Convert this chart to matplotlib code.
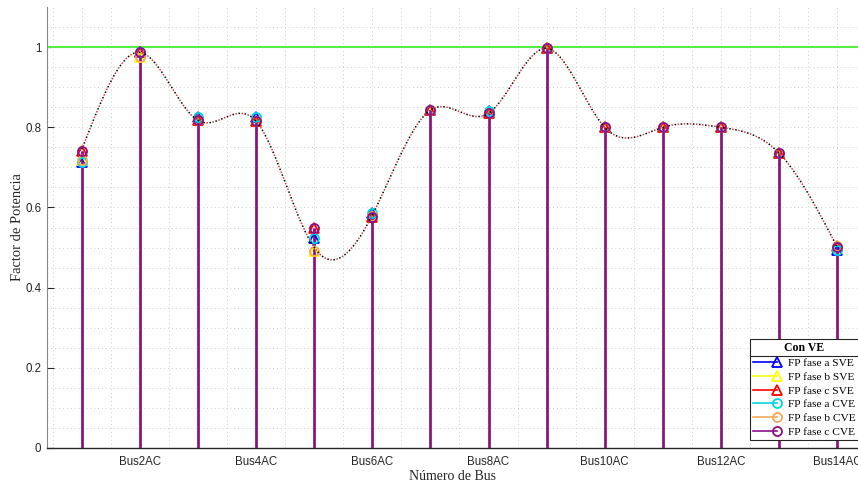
import numpy as np
import matplotlib
matplotlib.use("Agg")
import matplotlib.pyplot as plt
from matplotlib.legend_handler import HandlerLine2D
from matplotlib.lines import Line2D

# Power factor per bus and phase, without (SVE) and with (CVE) electric vehicles
buses = np.arange(1, 15)
fp_a_sve = [0.714, 0.987, 0.826, 0.826, 0.524, 0.585, 0.843, 0.840, 0.997, 0.800, 0.800, 0.800, 0.736, 0.495]
fp_b_sve = [0.718, 0.976, 0.818, 0.815, 0.492, 0.578, 0.843, 0.836, 0.997, 0.800, 0.800, 0.800, 0.736, 0.505]
fp_c_sve = [0.741, 0.987, 0.817, 0.815, 0.549, 0.576, 0.843, 0.835, 0.997, 0.800, 0.800, 0.800, 0.736, 0.505]
fp_a_cve = [0.714, 0.987, 0.826, 0.826, 0.524, 0.585, 0.843, 0.840, 0.997, 0.800, 0.800, 0.800, 0.736, 0.495]
fp_b_cve = [0.718, 0.976, 0.818, 0.815, 0.492, 0.578, 0.843, 0.836, 0.997, 0.800, 0.800, 0.800, 0.736, 0.505]
fp_c_cve = [0.741, 0.987, 0.817, 0.815, 0.549, 0.576, 0.843, 0.835, 0.997, 0.800, 0.800, 0.800, 0.736, 0.502]

# Values the smooth trend curve passes through at each bus
fp_tendencia = [0.745, 0.987, 0.817, 0.815, 0.500, 0.581, 0.843, 0.835, 0.997, 0.800, 0.800, 0.800, 0.736, 0.502]

tick_pos = [2, 4, 6, 8, 10, 12, 14]
tick_labels = ["Bus2AC", "Bus4AC", "Bus6AC", "Bus8AC", "Bus10AC", "Bus12AC", "Bus14AC"]
series_labels = ["FP fase a SVE", "FP fase b SVE", "FP fase c SVE",
                 "FP fase a CVE", "FP fase b CVE", "FP fase c CVE"]


def natural_spline(x, y, xs):
    x = np.asarray(x, float)
    y = np.asarray(y, float)
    n = len(x)
    h = np.diff(x)
    A = np.zeros((n, n))
    r = np.zeros(n)
    A[0, 0] = A[-1, -1] = 1.0
    for i in range(1, n - 1):
        A[i, i - 1] = h[i - 1]
        A[i, i] = 2 * (h[i - 1] + h[i])
        A[i, i + 1] = h[i]
        r[i] = 6 * ((y[i + 1] - y[i]) / h[i] - (y[i] - y[i - 1]) / h[i - 1])
    M = np.linalg.solve(A, r)
    idx = np.clip(np.searchsorted(x, xs) - 1, 0, n - 2)
    x0, x1 = x[idx], x[idx + 1]
    hh = x1 - x0
    t0 = x1 - xs
    t1 = xs - x0
    return (M[idx] * t0 ** 3 / (6 * hh) + M[idx + 1] * t1 ** 3 / (6 * hh)
            + (y[idx] / hh - M[idx] * hh / 6) * t0
            + (y[idx + 1] / hh - M[idx + 1] * hh / 6) * t1)


W, H = 858, 482
fig = plt.figure(figsize=(W / 100, H / 100), dpi=100)
ax = fig.add_axes([47 / W, 1 - 448 / H, 1 - 47 / W, (448 - 7) / H])

ax.set_xlim(0.4, 14.36)
ax.set_ylim(0, 1.1)

# dotted grid every half unit / 0.05
ax.set_xticks(np.arange(0.5, 14.5, 0.5), minor=True)
ax.set_yticks(np.arange(0, 1.1, 0.05), minor=True)
ax.grid(True, which="both", linestyle=(0, (1, 3)), color="#cfcfcf", linewidth=0.7)
ax.set_axisbelow(True)

# reference line at unity power factor
ax.axhline(1.0, color="#55ee44", linewidth=1.5, zorder=1)

styles = [
    (fp_a_sve, "#0000ff", "^"),
    (fp_b_sve, "#ffff00", "^"),
    (fp_c_sve, "#ff0000", "^"),
    (fp_a_cve, "#00d8e0", "o"),
    (fp_b_cve, "#f5a85a", "o"),
    (fp_c_cve, "#8a0f8a", "o"),
]

handles = []
for (vals, col, mk), lab in zip(styles, series_labels):
    ax.vlines(buses, 0, vals, colors=col, linewidth=1.8, zorder=2)
    ax.plot(buses, vals, linestyle="none", marker=mk, markersize=6.5,
            markerfacecolor="none", markeredgecolor=col, markeredgewidth=1.3, zorder=3)
    handles.append(Line2D([], [], color=col, marker=mk, markersize=6.5,
                          markerfacecolor="none", markeredgewidth=1.3,
                          linewidth=1.2, label=lab))

# smooth dotted trend curve
xs = np.linspace(1, 14, 600)
ys = natural_spline(buses, fp_tendencia, xs)
ax.plot(xs, ys, linestyle=(0, (1, 3)), color="#000000", linewidth=1.1, zorder=4)
ax.plot(xs, ys, linestyle=(2, (1, 3)), color="#c84040", linewidth=1.1, zorder=4)

ax.set_xticks(tick_pos)
ax.set_xticklabels(tick_labels)
ax.set_yticks([0, 0.2, 0.4, 0.6, 0.8, 1.0])
ax.set_yticklabels(["0", "0.2", "0.4", "0.6", "0.8", "1"])
ax.tick_params(which="major", direction="in", length=5, labelsize=8.3,
               labelcolor="#262626", color="#262626")
ax.tick_params(axis="y", pad=4)
ax.tick_params(axis="x", pad=6)
ax.tick_params(which="minor", length=0)
for lbl in ax.get_xticklabels() + ax.get_yticklabels():
    lbl.set_family(["Liberation Sans", "DejaVu Sans"])

for side in ("top", "right"):
    ax.spines[side].set_visible(False)
ax.spines["left"].set_color("#888888")
ax.spines["bottom"].set_color("#262626")
ax.spines["bottom"].set_linewidth(1.0)

serif = ["Liberation Serif", "DejaVu Serif"]
ax.set_xlabel("Número de Bus", family=serif, fontsize=10, color="#262626", labelpad=1.5)
ax.set_ylabel("Factor de Potencia", family=serif, fontsize=10.5, color="#262626", labelpad=1)


class RightMarker(HandlerLine2D):
    def create_artists(self, legend, orig_handle, xdescent, ydescent,
                       width, height, fontsize, trans):
        arts = super().create_artists(legend, orig_handle, xdescent, ydescent,
                                      width, height, fontsize, trans)
        for a in arts:
            if isinstance(a, Line2D) and len(a.get_xdata()) == 3:
                a.set_markevery([2])
        return arts


leg = fig.legend(handles=handles, loc="upper left",
                 bbox_to_anchor=(750 / W, 1 - 339 / H),
                 handler_map={Line2D: RightMarker()},
                 prop={"family": serif, "size": 8.2},
                 title="Con VE", title_fontproperties={"family": serif, "size": 8.5, "weight": "bold"},
                 frameon=True, fancybox=False, edgecolor="#262626", framealpha=1,
                 handlelength=2.1, handletextpad=0.9, labelspacing=0.33,
                 borderpad=0.3, borderaxespad=0)
leg.get_frame().set_linewidth(0.8)

# separator under the legend title
fig.add_artist(Line2D([750 / W, 1.0], [1 - 356 / H, 1 - 356 / H],
                      transform=fig.transFigure, color="#262626", linewidth=0.8, zorder=10))

fig.savefig("out.png", dpi=100)
